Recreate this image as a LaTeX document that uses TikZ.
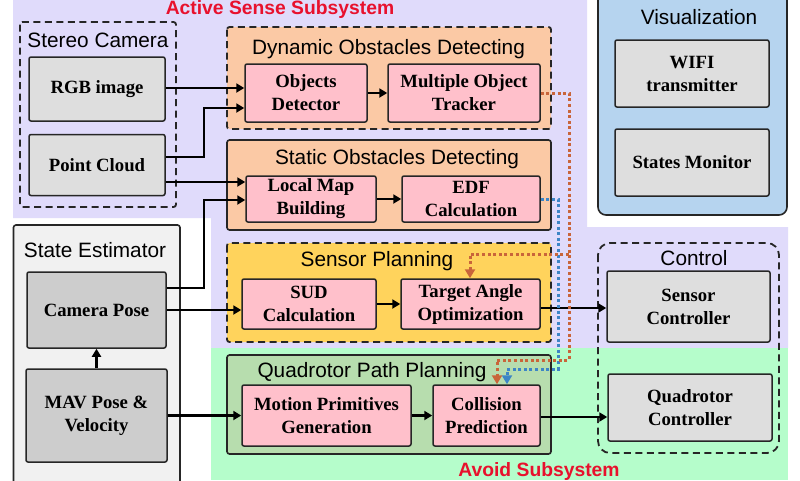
\documentclass[tikz,border=0pt]{standalone}
\usepackage{fontspec}
\setmainfont{Liberation Serif}
\setsansfont{Liberation Sans}
\usetikzlibrary{arrows.meta}
\definecolor{ActiveBg}{HTML}{E0DBFB}
\definecolor{AvoidBg}{HTML}{B5FDCB}
\definecolor{DetectOrange}{HTML}{FBC9A5}
\definecolor{PlanYellow}{HTML}{FFD35C}
\definecolor{PathGreen}{HTML}{B7DDAE}
\definecolor{VisBlue}{HTML}{B6D4EF}
\definecolor{StatePale}{HTML}{F1F1F1}
\definecolor{BoxGray}{HTML}{DEDEDE}
\definecolor{PoseGray}{HTML}{CDCDCD}
\definecolor{AlgoPink}{HTML}{FFC0CB}
\definecolor{TrackBrown}{HTML}{C9653A}
\definecolor{TipOrange}{HTML}{D2601A}
\definecolor{EdfBlue}{HTML}{3D85C6}
\definecolor{TitleRed}{HTML}{E8112D}
\tikzset{
  groupbox/.style={draw=black!85, line width=1.6pt, rounded corners=2.5pt},
  dashbox/.style={groupbox, dash pattern=on 7pt off 4.5pt, line width=1.8pt},
  unitbox/.style={draw=black!85, line width=1.5pt, rounded corners=2pt, inner sep=0pt,
    align=center, font=\fontsize{18.7}{23}\selectfont\bfseries},
  hwbox/.style={unitbox, fill=BoxGray},
  posebox/.style={unitbox, fill=PoseGray},
  algobox/.style={unitbox, fill=AlgoPink},
  grouptitle/.style={inner sep=0pt, font=\fontsize{20.8}{24}\selectfont\sffamily},
  redtitle/.style={inner sep=0pt, text=TitleRed, font=\fontsize{19.3}{23}\selectfont\sffamily\bfseries},
  flow/.style={-{Triangle[length=8pt,width=9pt]}, line width=2.5pt, black},
  feedback/.style={-{Triangle[length=9pt,width=10pt]}, line width=3pt, dash pattern=on 3pt off 2.6pt},
}
\begin{document}
\begin{tikzpicture}[x=1pt, y=-1pt]
    \useasboundingbox (0,0) rectangle (800,480);
    % subsystem backgrounds
    \fill[white] (0,0) rectangle (800,480);
    \fill[ActiveBg] (13,0) -- (587,0) -- (587,227) -- (788,227) -- (788,348) -- (211,348) -- (211,218) -- (13,218) -- cycle;
    \fill[AvoidBg] (211,348) rectangle (788,480);
    % groups
    \draw[dashbox] (20,22) rectangle (176,207);
    \draw[groupbox, fill=StatePale] (13.5,225) rectangle (180,490);
    \draw[dashbox, fill=DetectOrange] (227,27) rectangle (551,129);
    \draw[groupbox, fill=DetectOrange] (227,140) rectangle (551,230);
    \draw[dashbox, fill=PlanYellow] (227,243) rectangle (551,342);
    \draw[groupbox, fill=PathGreen] (227,355) rectangle (551,454);
    \draw[groupbox, fill=VisBlue, rounded corners=8pt] (598,-10) rectangle (787,215);
    \draw[dashbox, rounded corners=12pt] (598,243) rectangle (779,453);

    \node[redtitle] (active) at (280,10) {Active Sense Subsystem};
    \node[redtitle] (avoid) at (539,472) {Avoid Subsystem};
    \node[grouptitle] (stereo) at (98,40) {Stereo Camera};
    \node[grouptitle] (estimator) at (95,250) {State Estimator};
    \node[grouptitle] (dynamic) at (388.5,49) {Dynamic Obstacles Detecting};
    \node[grouptitle] (static) at (397,159) {Static Obstacles Detecting};
    \node[grouptitle] (sensorplan) at (377,261) {Sensor Planning};
    \node[grouptitle] (pathplan) at (372,372) {Quadrotor Path Planning};
    \node[grouptitle] (visual) at (699,17) {Visualization};
    \node[grouptitle] (control) at (694,258) {Control};

    % units
    \node[hwbox, minimum width=136pt, minimum height=64pt] (rgb) at (97,89) {RGB image};
    \node[hwbox, minimum width=136pt, minimum height=61pt] (cloud) at (97,165) {Point Cloud};
    \node[posebox, minimum width=139pt, minimum height=76pt] (pose) at (96.5,310) {Camera Pose};
    \node[posebox, minimum width=141pt, minimum height=93pt] (mav) at (96.5,415.5) {MAV Pose \&\\Velocity};
    \node[algobox, minimum width=122pt, minimum height=58pt] (detector) at (306,93) {Objects\\Detector};
    \node[algobox, minimum width=152pt, minimum height=58pt] (tracker) at (464,93) {Multiple Object\\Tracker};
    \node[algobox, minimum width=130pt, minimum height=46pt] (localmap) at (311,199) {Local Map\\Building};
    \node[algobox, minimum width=138pt, minimum height=46pt] (edf) at (471,199) {EDF\\Calculation};
    \node[algobox, minimum width=134pt, minimum height=50pt] (sud) at (309,304) {SUD\\Calculation};
    \node[algobox, minimum width=139pt, minimum height=50pt] (target) at (470.5,304) {Target Angle\\Optimization};
    \node[algobox, minimum width=169pt, minimum height=61pt] (motion) at (326.5,415.5) {Motion Primitives\\Generation};
    \node[algobox, minimum width=107pt, minimum height=61pt] (collision) at (486.5,415.5) {Collision\\Prediction};
    \node[hwbox, minimum width=163pt, minimum height=71pt] (sensorctl) at (688.5,306.5) {Sensor\\Controller};
    \node[hwbox, minimum width=164pt, minimum height=67pt] (quadctl) at (690,407.5) {Quadrotor\\Controller};
    \node[hwbox, minimum width=154pt, minimum height=67pt] (wifi) at (692,73.5) {WIFI\\transmitter};
    \node[hwbox, minimum width=154pt, minimum height=67pt] (monitor) at (692,162.5) {States Monitor};

    % connectors
    \draw[flow] (rgb.east |- 0,88) -- (detector.west |- 0,88);
    \draw[flow] (cloud.east |- 0,157) -- (204,157) |- (detector.west |- 0,108);
    \draw[flow] (cloud.east |- 0,182) -- (localmap.west |- 0,182);
    \draw[flow] (pose.east |- 0,288) -- (204,288) |- (localmap.west |- 0,200);
    \draw[flow] (pose.east |- 0,310) -- (sud.west |- 0,310);
    \draw[flow] (mav.north) -- (pose.south);
    \draw[flow] (mav.east) -- (motion.west);
    \draw[flow] (detector.east) -- (tracker.west);
    \draw[flow] (localmap.east) -- (edf.west);
    \draw[flow] (sud.east) -- (target.west);
    \draw[flow] (motion.east) -- (collision.west);
    \draw[flow] (target.east |- 0,308) -- (sensorctl.west |- 0,308);
    \draw[flow] (collision.east |- 0,417) -- (quadctl.west |- 0,417);
    \draw[feedback, EdfBlue] (edf.east) -- (558,199) -- (558,369) -- (507,369) -- (507,0 |- collision.north);
    \draw[feedback, TrackBrown] (tracker.east) -- (569,93) -- (569,360) -- (497,360) -- (497,0 |- collision.north);
    \draw[feedback, TrackBrown] (569,254) -- (470,254) -- (470,0 |- target.north);
\end{tikzpicture}
\end{document}
